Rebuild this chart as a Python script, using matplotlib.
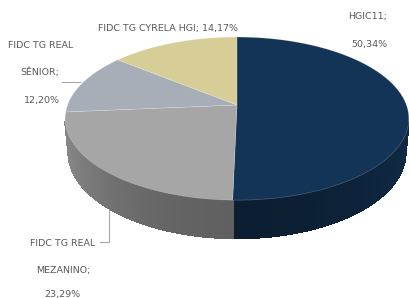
import numpy as np
import matplotlib.pyplot as plt
from matplotlib.patches import Polygon
from matplotlib.collections import PolyCollection
from matplotlib.colors import to_rgb

# data
names = ["HGIC11", "FIDC TG REAL MEZANINO", "FIDC TG REAL SÊNIOR", "FIDC TG CYRELA HGI"]
values = [50.34, 23.29, 12.20, 14.17]
colors = ["#143457", "#a6a6a6", "#a8aeb8", "#d6cd97"]

W, H = 409, 298
fig = plt.figure(figsize=(W / 100, H / 100), dpi=100)
ax = fig.add_axes([0, 0, 1, 1])
ax.set_xlim(0, W)
ax.set_ylim(H, 0)
ax.axis('off')

# 3d pie look (perspective view of a flat cylinder)
cx, cy = 237, 105
scale = 898
dist, elev = 5.3, np.radians(27.9)
thick = 0.229


def project(theta, z, r=1.0):
    X = r * np.sin(theta)
    Y = r * np.cos(theta)
    depth = dist + Y * np.cos(elev) - z * np.sin(elev)
    sx = X / depth
    sy = (Y * np.sin(elev) + z * np.cos(elev)) / depth
    return cx + scale * sx, cy - scale * sy


bounds = np.concatenate([[0], np.cumsum(values)]) / sum(values) * 2 * np.pi
vis_lo = np.arccos(-1 / (dist * np.cos(elev)))
vis_hi = 2 * np.pi - vis_lo

# side wall, drawn as thin strips with a soft shading
quads, qcols = [], []
for i, col in enumerate(colors):
    lo = max(bounds[i], vis_lo)
    hi = min(bounds[i + 1], vis_hi)
    if lo >= hi:
        continue
    t = np.linspace(lo, hi, 120)
    xt, yt = project(t, 0)
    xb, yb = project(t, -thick)
    base = np.array(to_rgb(col))
    for j in range(len(t) - 1):
        quads.append([(xt[j], yt[j]), (xt[j + 1], yt[j + 1]),
                      (xb[j + 1], yb[j + 1]), (xb[j], yb[j])])
        tm = 0.5 * (t[j] + t[j + 1])
        shade = 0.58 + 0.24 * np.sin(tm) ** 2
        qcols.append(np.clip(base * shade, 0, 1))
ax.add_collection(PolyCollection(quads, facecolors=qcols, edgecolors=qcols,
                                 linewidths=1.0, antialiased=False))

# top face
for i, col in enumerate(colors):
    t = np.linspace(bounds[i], bounds[i + 1], 200)
    xs, ys = project(t, 0)
    pts = [(cx, cy)] + list(zip(xs, ys))
    ax.add_patch(Polygon(pts, closed=True, facecolor=col, edgecolor=(1, 1, 1, 0.3), linewidth=0.4))


# labels
def pct(v):
    return f"{v:.2f}".replace('.', ',') + "%"


txt = dict(fontsize=6.8, color="#595959", ha='center', va='center')
ax.text(368, 17, names[0] + ";", **txt)
ax.text(369, 45, pct(values[0]), **txt)

ax.text(63, 243, "FIDC TG REAL", **txt)
ax.text(63, 271, "MEZANINO;", **txt)
ax.text(62, 295, pct(values[1]), **txt)

ax.text(41, 45, "FIDC TG REAL", **txt)
ax.text(40, 72, "SÊNIOR;", **txt)
ax.text(42, 101, pct(values[2]), **txt)

ax.text(168, 28, f"{names[3]}; {pct(values[3])}", **txt)

# leader lines
ax.plot([62, 80], [82, 82], color="#a6a6a6", lw=0.8)
ax.plot([100, 109, 109], [242, 242, 210], color="#a6a6a6", lw=0.8)

fig.savefig("out.png", dpi=100)
